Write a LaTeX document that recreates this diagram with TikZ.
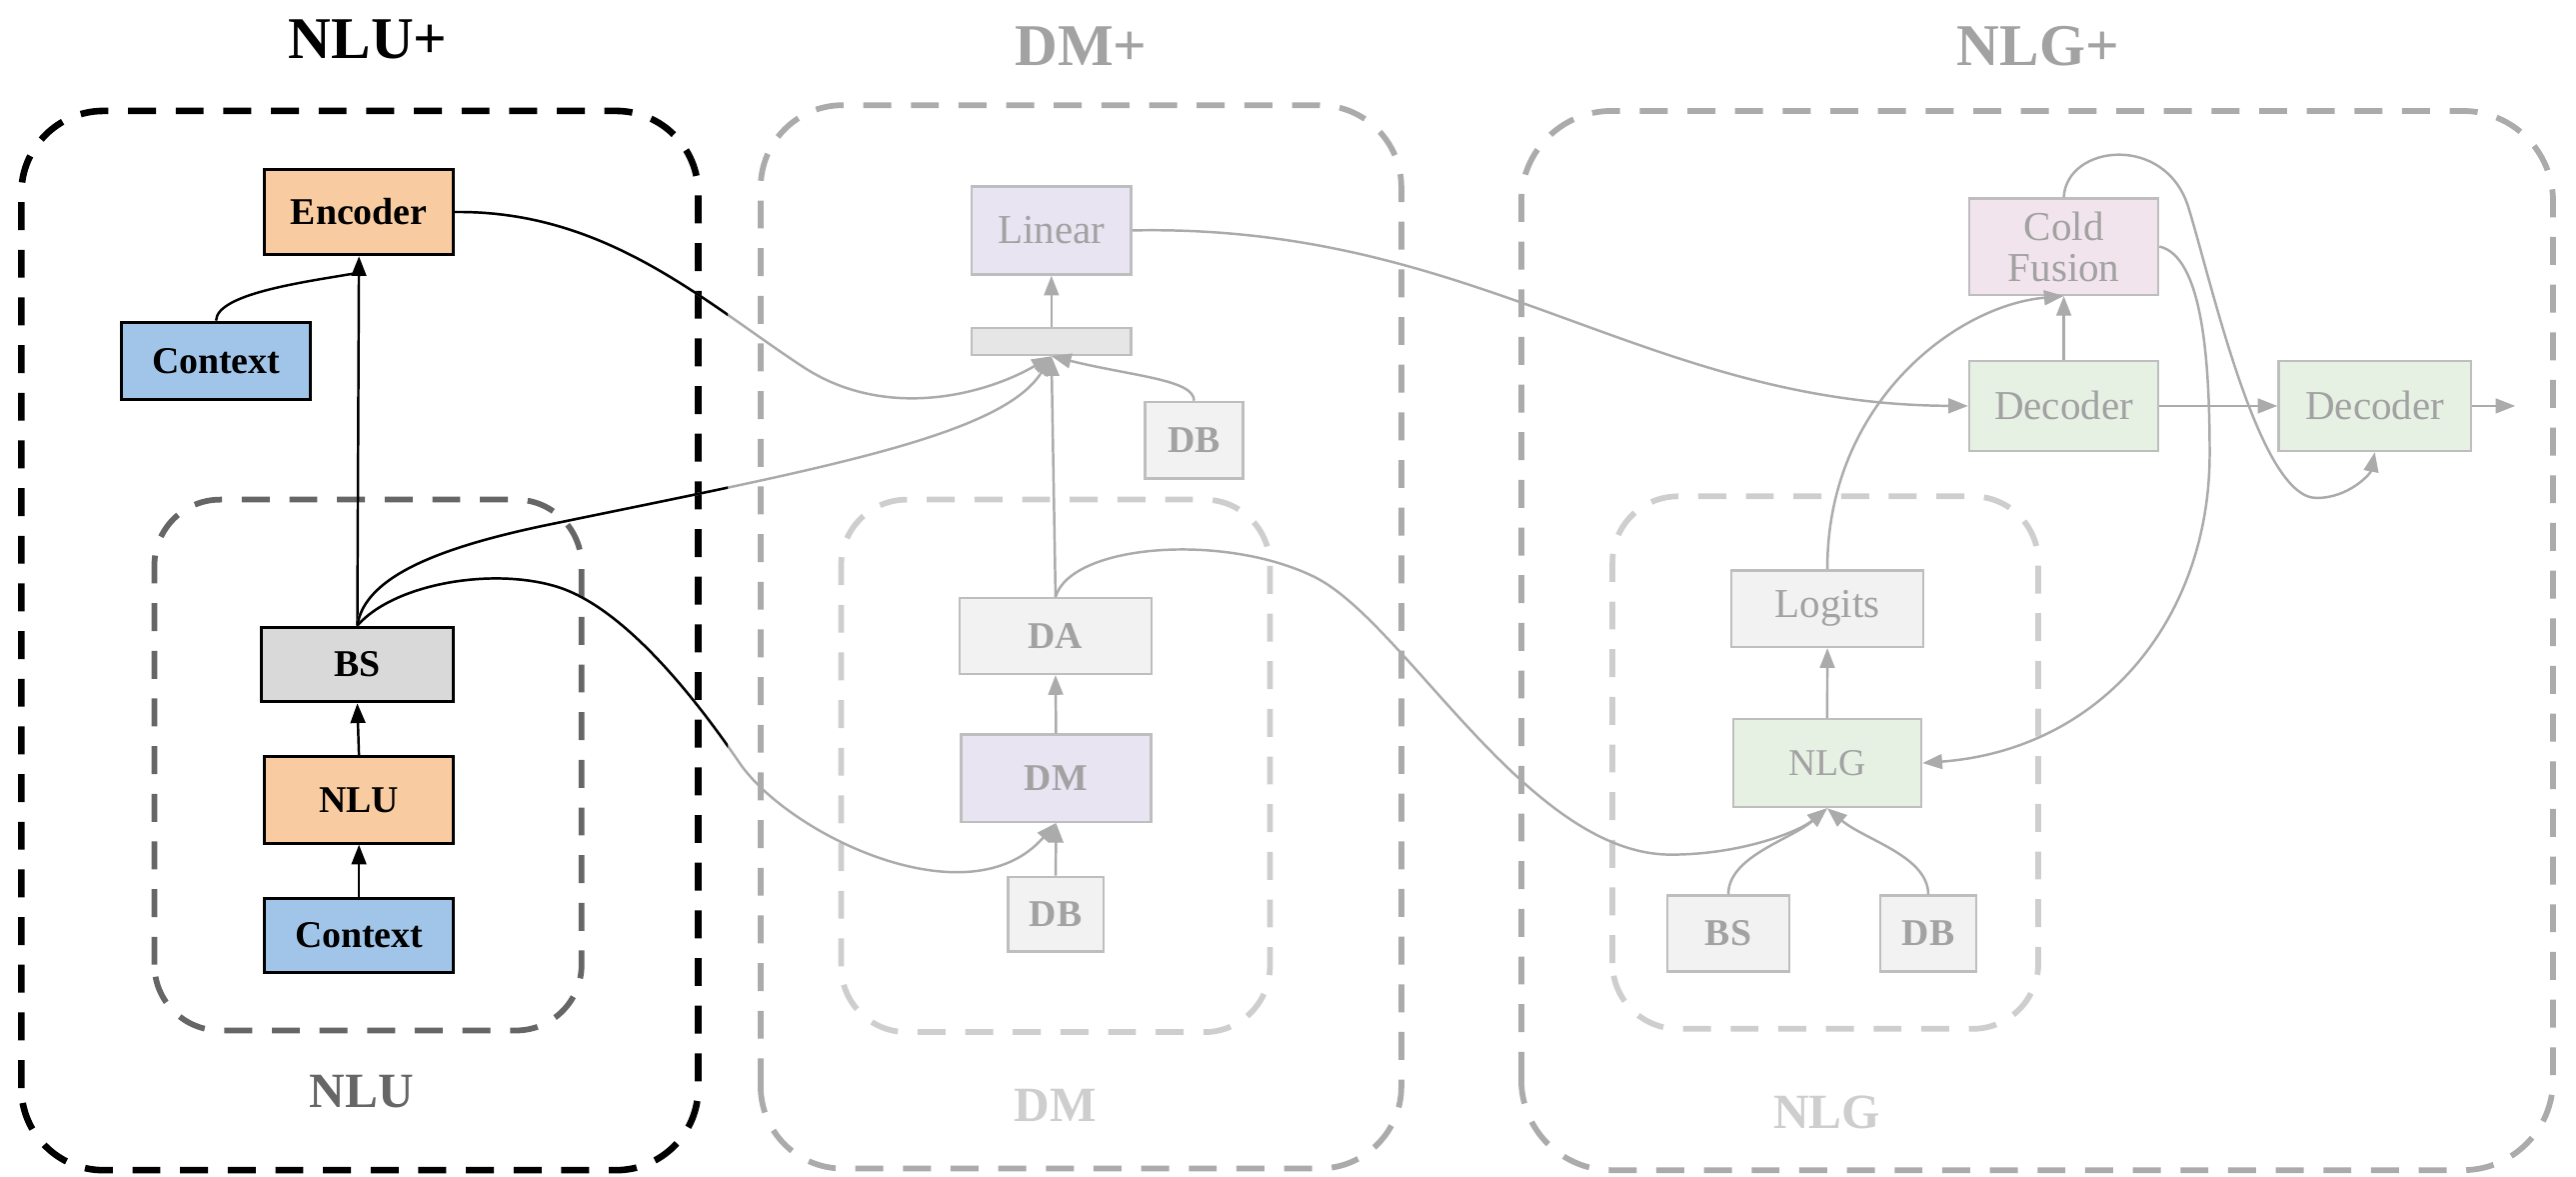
\documentclass[tikz,border=0pt]{standalone}
\usepackage{fontspec}
\setmainfont{Liberation Serif}
\usetikzlibrary{arrows.meta}
\definecolor{peach}{RGB}{248,203,160}
\definecolor{sky}{RGB}{160,197,232}
\definecolor{bsgray}{RGB}{217,217,217}
\definecolor{darkdash}{RGB}{102,102,102}
\definecolor{fline}{RGB}{171,171,171}
\definecolor{fbord}{RGB}{190,190,190}
\definecolor{ftext}{RGB}{162,162,162}
\definecolor{fsub}{RGB}{206,206,206}
\definecolor{lav}{RGB}{232,228,242}
\definecolor{barfill}{RGB}{230,230,230}
\definecolor{pale}{RGB}{242,242,242}
\definecolor{mint}{RGB}{230,241,228}
\definecolor{pinkish}{RGB}{242,228,236}
\begin{document}
\begin{tikzpicture}[x=1pt,y=1pt,>={Triangle[length=12pt,width=9pt]},
    grp/.style={rounded corners=50pt,line width=3.5pt,dash pattern=on 17pt off 12pt},
    box/.style={draw,line width=1.8pt,minimum width=115pt,minimum height=52pt,inner sep=0pt,
        font=\fontsize{23}{27}\selectfont\bfseries},
    faded/.style={draw=fbord,line width=1.5pt,text=ftext,inner sep=0pt,
        font=\fontsize{25}{27}\selectfont},
    fbold/.style={faded,font=\fontsize{23}{25}\selectfont\bfseries},
    title/.style={font=\fontsize{36}{40}\selectfont\bfseries},
    sub/.style={font=\fontsize{30}{34}\selectfont\bfseries},
    link/.style={->,line width=1.5pt},
    flink/.style={link,fline}]
\useasboundingbox (0,0) rectangle (1568,716);
% groups
\draw[grp,line width=4pt] (13,4) rectangle (425,648.5); % NLU+
\draw[grp,darkdash,rounded corners=40pt] (94,89) rectangle (354,412); % NLU
\draw[grp,fline] (463,5) rectangle (853,652); % DM+
\draw[grp,fsub,rounded corners=40pt] (512,88) rectangle (773,412); % DM
\draw[grp,fline,rounded corners=55pt] (926,4) rectangle (1554,648.5); % NLG+
\draw[grp,fsub,rounded corners=40pt] (981.5,90) rectangle (1240.7,414); % NLG
\node[title] (tNLU) at (224,692) {NLU+};
\node[title,text=ftext] (tDM) at (658,688) {DM+};
\node[title,text=ftext] (tNLG) at (1240.6,688) {NLG+};
\node[sub,text=darkdash] (sNLU) at (220,52) {NLU};
\node[sub,text=fsub] (sDM) at (642.5,43.3) {DM};
\node[sub,text=fsub] (sNLG) at (1112,39.4) {NLG};
% NLU+ blocks
\node[box,fill=peach] (enc) at (218.5,587) {Encoder};
\node[box,fill=sky,minimum height=47pt] (ctxA) at (131.5,496.5) {Context};
\node[box,fill=bsgray,minimum width=117pt,minimum height=45.5pt] (bs) at (217.5,311.7) {BS};
\node[box,fill=peach,minimum height=52.5pt] (nlu) at (218.5,229.2) {NLU};
\node[box,fill=sky,minimum height=45pt] (ctxB) at (218.5,146.8) {Context};
% DM+ blocks
\node[faded,fill=lav,minimum width=97pt,minimum height=53.6pt] (lin) at (640,575.8) {Linear};
\node[faded,fill=barfill,minimum width=97pt,minimum height=16.4pt] (cat) at (640,508.2) {};
\node[fbold,fill=pale,minimum width=59.5pt,minimum height=46.5pt] (dbA) at (726.8,448.2) {DB};
\node[fbold,fill=pale,minimum width=117pt,minimum height=46pt] (da) at (642.5,329) {DA};
\node[fbold,fill=lav,minimum width=115.5pt,minimum height=53pt] (dm) at (642.8,242.5) {DM};
\node[fbold,fill=pale,minimum width=58pt,minimum height=45.4pt] (dbB) at (642.6,159.7) {DB};
% NLG+ blocks
\node[faded,fill=pinkish,minimum width=115pt,minimum height=58.7pt,align=center] (cf) at (1256.2,566) {Cold\\[-2pt]Fusion};
\node[faded,fill=mint,minimum width=115pt,minimum height=54.7pt] (dec) at (1256.2,469) {Decoder};
\node[faded,fill=mint,minimum width=117pt,minimum height=54.7pt] (decB) at (1445.5,469) {Decoder};
\node[faded,fill=pale,minimum width=116.7pt,minimum height=46.6pt] (logits) at (1112.3,345.7) {Logits};
\node[faded,fill=mint,minimum width=114.5pt,minimum height=53.4pt,font=\fontsize{23}{25}\selectfont] (nlg) at (1112.2,251.7) {NLG};
\node[fbold,fill=pale,minimum width=74pt,minimum height=46pt] (bsC) at (1052,148) {BS};
\node[fbold,fill=pale,minimum width=58.5pt,minimum height=46pt] (dbC) at (1173.7,148) {DB};
\coordinate (out) at (1531,469);
% NLU+ links
\draw[link] (bs.north) -- (enc.south);
\draw[line width=1.5pt] (ctxA.north) .. controls (132,538) and (190,545) .. ([yshift=-10pt]enc.south);
\draw[link] (nlu.north) -- (bs.south);
\draw[link] (ctxB.north) -- (nlu.south);
\foreach \col/\clipx in {fline/1568,black/443}{
    \begin{scope}
        \clip (0,0) rectangle (\clipx,716);
        \draw[link,\col] (enc.east) .. controls (370,588) and (430,531) .. (490,492)
            .. controls (540,460) and (600,476) .. (cat.south);
        \draw[link,\col] (bs.north) .. controls (222,366) and (270,384) .. (340,398)
            .. controls (500,431) and (610,451) .. (cat.south);
        \draw[link,\col] (bs.north) .. controls (240,361) and (300,371) .. (339,359)
            .. controls (378,347) and (420,296) .. (450,252)
            .. controls (480,208) and (590,155) .. (dm.south);
    \end{scope}
}
% DM+ links
\draw[flink] (cat.north) -- (lin.south);
\draw[flink] (da.north) -- (cat.south);
\draw[flink] (dbA.north) .. controls (726.8,485) and (690,487) .. (cat.south);
\draw[flink] (dm.north) -- (da.south);
\draw[flink] (dbB.north) -- (dm.south);
\draw[flink] (da.north) .. controls (652,385) and (745,392) .. (800,365)
    .. controls (855,338) and (930,196) .. (1017,196)
    .. controls (1060,196) and (1095,210) .. (nlg.south);
% NLG+ links
\draw[flink] (bsC.north) .. controls (1052,195) and (1090,205) .. (nlg.south);
\draw[flink] (dbC.north) .. controls (1173.7,195) and (1135,205) .. (nlg.south);
\draw[flink] (nlg.north) -- (logits.south);
\draw[flink] (logits.north) .. controls (1112,470) and (1190,530) .. (cf.south);
\draw[flink] (dec.north) -- (cf.south);
\draw[flink] (lin.east) .. controls (900,580) and (1000,470) .. (dec.west);
\draw[flink] (dec.east) -- (decB.west);
\draw[flink] (decB.east) -- (out);
\draw[flink] (cf.north) .. controls (1258,628) and (1318,635) .. (1332,590)
    .. controls (1346,545) and (1375,413) .. (1410,413)
    .. controls (1430,413) and (1443,428) .. (decB.south);
\draw[flink] (cf.east) .. controls (1340,560) and (1345,500) .. (1345,440)
    .. controls (1345,340) and (1280,260) .. (nlg.east);
\end{tikzpicture}
\end{document}
